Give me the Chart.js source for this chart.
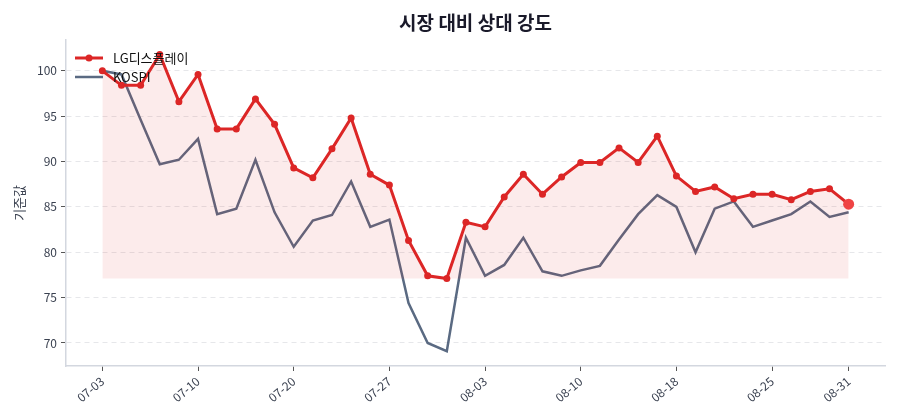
<!DOCTYPE html>
<html>
<head>
<meta charset="utf-8">
<script src="https://cdn.jsdelivr.net/npm/chart.js@4"></script>
<style>
  html, body { margin: 0; padding: 0; background: #fff; }
  #wrap { width: 900px; height: 420px; }
</style>
</head>
<body>
<div id="wrap"><canvas id="chart"></canvas></div>
<script>
// 날짜 (영업일)
const dates = [
  "07-03","07-04","07-05","07-06","07-07",
  "07-10","07-11","07-12","07-13","07-14",
  "07-20","07-21","07-24","07-25","07-26",
  "07-27","07-28","07-31","08-01","08-02",
  "08-03","08-04","08-07","08-08","08-09",
  "08-10","08-11","08-14","08-16","08-17",
  "08-18","08-21","08-22","08-23","08-24",
  "08-25","08-28","08-29","08-30","08-31"
];
// x축에 보이는 날짜 위치
const tickIdx = [0, 5, 10, 15, 20, 25, 30, 35, 39];
const yTicks = [70, 75, 80, 85, 90, 95, 100];

// 기준값 (시작=100)
const lgDisplay = [100.0, 98.4, 98.4, 101.8, 96.6, 99.6, 93.6, 93.6, 96.9, 94.1,
                   89.3, 88.2, 91.4, 94.8, 88.6, 87.4, 81.3, 77.4, 77.1, 83.3,
                   82.8, 86.1, 88.6, 86.4, 88.3, 89.9, 89.9, 91.5, 89.9, 92.8,
                   88.4, 86.7, 87.2, 85.9, 86.4, 86.4, 85.8, 86.7, 87.0, 85.3];
const kospi = [100.0, 99.6, 94.6, 89.7, 90.2, 92.5, 84.2, 84.8, 90.2, 84.4,
               80.6, 83.5, 84.1, 87.8, 82.8, 83.6, 74.4, 70.0, 69.1, 81.6,
               77.4, 78.6, 81.6, 77.9, 77.4, 78.0, 78.5, 81.4, 84.2, 86.3,
               85.0, 80.0, 84.8, 85.6, 82.8, 83.5, 84.2, 85.6, 83.9, 84.4];

const FONT = "'Noto Sans CJK KR', 'Noto Sans', sans-serif";
const RED = "#dc2626";
const GRAY = "#5a6a82";
const lastIdx = lgDisplay.length - 1;
const fillBase = Math.min(...lgDisplay);

// 범례를 차트 안쪽 왼쪽 위에 그림
const innerLegend = {
  id: "innerLegend",
  afterDraw(chart) {
    const ctx = chart.ctx;
    const x0 = chart.chartArea.left + 9;
    const items = [
      { text: "LG디스플레이", color: RED, width: 3, dot: true, y: 58 },
      { text: "KOSPI", color: GRAY, width: 2.5, dot: false, y: 77 }
    ];
    ctx.save();
    items.forEach(it => {
      ctx.strokeStyle = it.color;
      ctx.lineWidth = it.width;
      ctx.beginPath();
      ctx.moveTo(x0, it.y);
      ctx.lineTo(x0 + 28, it.y);
      ctx.stroke();
      if (it.dot) {
        ctx.fillStyle = it.color;
        ctx.beginPath();
        ctx.arc(x0 + 14, it.y, 3.5, 0, Math.PI * 2);
        ctx.fill();
      }
      ctx.fillStyle = "#111";
      ctx.font = "13px " + FONT;
      ctx.textBaseline = "middle";
      ctx.fillText(it.text, x0 + 38, it.y);
    });
    ctx.restore();
  }
};

new Chart(document.getElementById("chart"), {
  type: "line",
  data: {
    labels: dates,
    datasets: [
      {
        label: "LG디스플레이",
        data: lgDisplay.map((v, i) => ({ x: i, y: v })),
        borderColor: RED,
        backgroundColor: "rgba(220, 38, 38, 0.09)",
        borderWidth: 3,
        pointRadius: ctx => ctx.dataIndex === lastIdx ? 5.5 : 3.5,
        pointBackgroundColor: ctx => ctx.dataIndex === lastIdx ? "#ef4444" : RED,
        pointBorderWidth: 0,
        fill: { value: fillBase },
        tension: 0,
        order: 0
      },
      {
        label: "KOSPI",
        data: kospi.map((v, i) => ({ x: i, y: v })),
        borderColor: GRAY,
        borderWidth: 2.5,
        pointRadius: 0,
        fill: false,
        tension: 0,
        order: 1
      }
    ]
  },
  options: {
    responsive: true,
    maintainAspectRatio: false,
    animation: false,
    layout: { padding: { left: 11, right: 15, top: 0, bottom: 0 } },
    plugins: {
      legend: { display: false },
      tooltip: { enabled: false },
      title: {
        display: true,
        fullSize: false,
        text: "시장 대비 상대 강도",
        color: "#1a1a2a",
        font: { family: FONT, size: 19, weight: "bold" },
        padding: { top: 11, bottom: 6 }
      }
    },
    scales: {
      x: {
        type: "linear",
        min: -1.9,
        max: 40.9,
        afterBuildTicks: s => { s.ticks = tickIdx.map(v => ({ value: v })); },
        afterFit: s => { s.height = 54; },
        ticks: {
          autoSkip: false,
          maxRotation: 40,
          minRotation: 40,
          color: "#3a4150",
          font: { family: FONT, size: 12 },
          padding: 3,
          callback: v => dates[v]
        },
        grid: {
          drawOnChartArea: false,
          drawTicks: true,
          tickLength: 5,
          tickColor: "#555"
        },
        border: { color: "#d3d7df", width: 1.5 }
      },
      y: {
        min: 67.46,
        max: 103.42,
        afterBuildTicks: s => { s.ticks = yTicks.map(v => ({ value: v })); },
        afterFit: s => { s.width = 55; },
        ticks: {
          color: "#3a4150",
          font: { family: FONT, size: 12 },
          padding: 4
        },
        grid: {
          color: "#e6e7ea",
          tickBorderDash: [],
          tickColor: "#555",
          tickLength: 5
        },
        border: { color: "#d3d7df", width: 1.5, dash: [5, 4] },
        title: {
          display: true,
          text: "기준값",
          color: "#3a4150",
          font: { family: FONT, size: 13 },
          padding: 0
        }
      }
    }
  },
  plugins: [innerLegend]
});
</script>
</body>
</html>
